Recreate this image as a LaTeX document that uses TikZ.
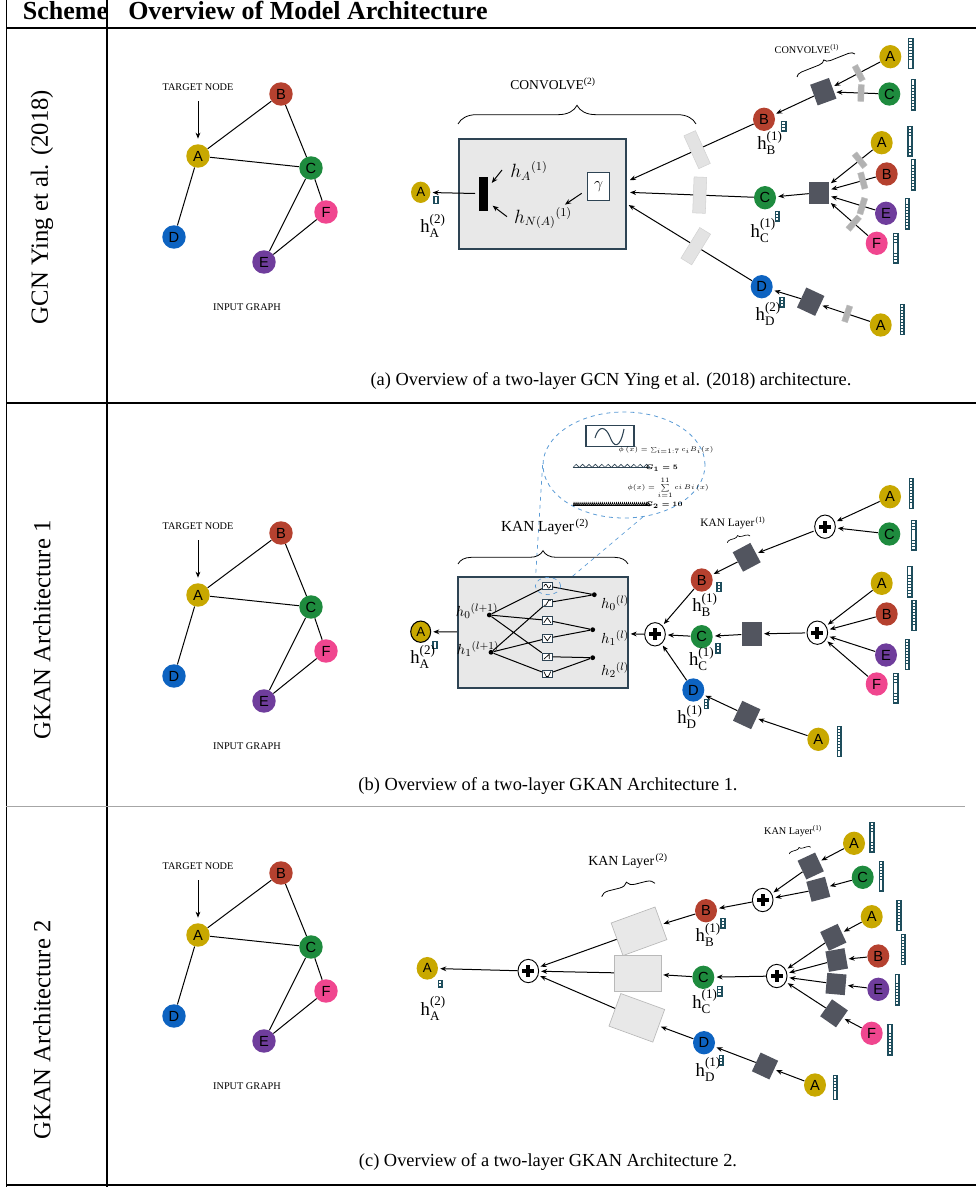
\documentclass[tikz,border=0pt]{standalone}
\usepackage{amsmath}
\usepackage{fontspec}
\setmainfont{Liberation Serif}
\setsansfont{Liberation Sans}
\usetikzlibrary{arrows.meta,shapes.geometric,decorations.pathreplacing,decorations.pathmorphing}
\pgfdeclarelayer{edges}
\pgfsetlayers{edges,main}
\definecolor{cA}{HTML}{C8A800}
\definecolor{cB}{HTML}{B5412F}
\definecolor{cC}{HTML}{1E8B3E}
\definecolor{cD}{HTML}{0D63C1}
\definecolor{cE}{HTML}{6F3D9C}
\definecolor{cF}{HTML}{F0468F}
\definecolor{sqc}{HTML}{52555F}
\definecolor{vbc}{HTML}{1E4D5C}
\definecolor{bxc}{HTML}{2E4454}
\definecolor{lgc}{HTML}{E8E8E8}
\definecolor{blc}{HTML}{5B9BD5}
\tikzset{
 gn/.style={circle, minimum size=17.6pt, inner sep=0pt, font=\sffamily\fontsize{11}{11}\selectfont},
 rn/.style={ellipse, minimum width=16.5pt, minimum height=17.5pt, inner sep=0pt, font=\sffamily\fontsize{11}{11}\selectfont},
 outn/.style={ellipse, minimum width=14.5pt, minimum height=16pt, inner sep=0pt, font=\sffamily\fontsize{10}{10}\selectfont},
 ln/.style={line width=0.75pt},
 arr/.style={line width=0.75pt, -{Stealth[length=4.5pt,width=3.6pt]}, shorten >=1.5pt},
 sqn/.style={rectangle, fill=sqc, minimum width=15pt, minimum height=16.5pt, inner sep=0pt},
 grr/.style={rectangle, fill=gray!60, draw=gray!50, line width=0.3pt, minimum width=4.5pt, minimum height=12.5pt, inner sep=0pt},
 stip/.style={rectangle, fill=gray!22, draw=gray!35, line width=0.4pt, minimum width=9.5pt, minimum height=27pt, inner sep=0pt},
 plusn/.style={ellipse, draw=black, line width=0.7pt, fill=white, minimum width=15.5pt, minimum height=17.5pt, inner sep=0pt,
   path picture={
     \fill[black] ([shift={(-4.6pt,-1.5pt)}]path picture bounding box.center) rectangle ([shift={(4.6pt,1.5pt)}]path picture bounding box.center);
     \fill[black] ([shift={(-1.5pt,-4.6pt)}]path picture bounding box.center) rectangle ([shift={(1.5pt,4.6pt)}]path picture bounding box.center);}},
 vbar/.style={rectangle, fill=vbc, draw=vbc, line width=0.3pt, inner sep=0pt, minimum width=3.3pt, minimum height={#1*2.2pt+0.6pt},
   path picture={\foreach \i in {1,...,#1}{\fill[white] ([shift={(-0.8pt,{0.6pt+(\i-1)*2.2pt})}]path picture bounding box.south) rectangle ++(1.6pt,1.6pt);}}},
 tnote/.style={font=\fontsize{7.7}{8}\selectfont, inner sep=1pt},
 lbl/.style={font=\fontsize{14}{14}\selectfont, inner sep=0pt},
 mlb/.style={font=\fontsize{13.5}{13.5}\selectfont, inner sep=0pt},
 klb/.style={font=\fontsize{11}{11}\selectfont, inner sep=0pt},
 captxt/.style={font=\fontsize{13.8}{16}\selectfont, inner sep=0pt},
 sidetxt/.style={font=\fontsize{18.5}{18.5}\selectfont, rotate=90, inner sep=0pt},
 hdtxt/.style={font=\bfseries\fontsize{19.5}{20}\selectfont, anchor=base west, inner sep=0pt},
 brc/.style={decorate, line width=0.6pt},
 kbx/.style={rectangle, draw=bxc, fill=white, line width=0.6pt, minimum width=7.5pt, minimum height=5.5pt, inner sep=0pt},
 kdot/.style={circle, fill=black, minimum size=3.6pt, inner sep=0pt},
 kanr/.style={rectangle, fill=lgc, draw=gray!55, line width=0.5pt, minimum width=35pt, minimum height=26pt, inner sep=0pt},
 tbl/.style={line width=0.9pt},
 tinytxt/.style={font=\fontsize{4}{4}\selectfont, inner sep=0pt},
}
\newcommand\hlab[2]{h$^{\textnormal{(#1)}}_{\textnormal{#2}}$}
\newcommand\ingraph[2]{%
\begin{scope}[shift={(0,#2)}]
\node[tnote] (#1tn) at (198,87) {TARGET NODE};
\node[gn,fill=cA] (#1A) at (198,156) {A};
\node[gn,fill=cB] (#1B) at (281,94) {B};
\node[gn,fill=cC] (#1C) at (311,168) {C};
\node[gn,fill=cF] (#1F) at (326,212) {F};
\node[gn,fill=cD] (#1D) at (174,237) {D};
\node[gn,fill=cE] (#1E) at (264,262) {E};
\node[tnote] (#1ig) at (247,307) {INPUT GRAPH};
\end{scope}
\begin{pgfonlayer}{edges}
\draw[arr, shorten <=7pt, shorten >=4pt] (#1tn) -- (#1A);
\draw[ln] (#1A) -- (#1B) (#1A) -- (#1C) (#1A) -- (#1D) (#1B) -- (#1C) (#1C) -- (#1E) (#1C) -- (#1F) (#1E) -- (#1F);
\end{pgfonlayer}}
\begin{document}
\begin{tikzpicture}[x=0.75pt, y=-0.75pt]
\useasboundingbox (0,0) rectangle (976,1187);
% ---------------- table
\draw[tbl] (6,28) -- (976,28);
\draw[tbl] (107,0) -- (107,1187);
\draw[tbl] (6.5,0) -- (6.5,1187);
\draw[tbl] (6,403) -- (976,403);
\draw[line width=0.7pt, gray!70] (6,806) -- (965,806);
\draw[tbl] (6,1185) -- (976,1185);
\node[hdtxt] (hs) at (22.7,19.3) {Scheme};
\node[hdtxt] (ho) at (128,19.3) {Overview of Model Architecture};
\node[sidetxt] (sa) at (42,207) {GCN Ying et al. (2018)};
\node[sidetxt] (sb) at (42,630) {GKAN Architecture 1};
\node[sidetxt] (sc) at (42,1030) {GKAN Architecture 2};
\node[captxt] (capa) at (611,381) {(a) Overview of a two-layer GCN Ying et al. (2018) architecture.};
\node[captxt] (capb) at (548,786) {(b) Overview of a two-layer GKAN Architecture 1.};
\node[captxt] (capc) at (548,1162) {(c) Overview of a two-layer GKAN Architecture 2.};
% ---------------- graphs
\ingraph{ga}{0}
\ingraph{gb}{439}
\ingraph{gc}{779}
% ================= PANEL A
\node[font=\fontsize{10.2}{11}\selectfont] (cv2) at (553,84) {CONVOLVE\textsuperscript{(2)}};
\draw[brc, decoration={brace, amplitude=14pt}] (458,124) -- (696,124);
\node[draw=bxc, fill=lgc, line width=1pt, minimum width=125.25pt, minimum height=82.7pt, inner sep=0pt] (convbox) at (542.5,194) {};
\node[fill=black, minimum width=6.5pt, minimum height=25.5pt, inner sep=0pt] (bar) at (483.7,193.7) {};
\node[mlb] (hA) at (529,171) {$h_A{}^{(1)}$};
\node[mlb] (hNA) at (543,218) {$h_{N(A)}{}^{(1)}$};
\node[draw=bxc, fill=white, line width=0.9pt, minimum width=16.2pt, minimum height=21.3pt, inner sep=0pt, font=\fontsize{13}{13}\selectfont] (gam) at (598.5,186.5) {$\gamma$};
\coordinate (hAs) at (502,170); \coordinate (hAe) at (490.5,184.5);
\coordinate (hNs) at (507,216.7); \coordinate (hNe) at (491,204.5);
\coordinate (gms) at (581.7,193.3); \coordinate (gme) at (563.3,205.7);
\draw[arr] (hAs) -- (hAe);
\draw[arr] (hNs) -- (hNe);
\draw[arr] (gms) -- (gme);
\node[outn, fill=cA] (oa) at (420.7,192.3) {A};
\node[vbar=2] (oav) at (435.8,200) {};
\node[lbl] (oal) at (433,226) {\hlab{2}{A}};
\draw[arr, shorten <=3pt] (bar) -- (oa);
\coordinate (in1) at (628,181);
\coordinate (in2) at (628,192.3);
\coordinate (in3) at (627,204);
% right side
\node[font=\fontsize{7.7}{8}\selectfont] (cv1) at (807,49) {CONVOLVE\textsuperscript{(1)}};
\draw[brc, decoration={brace, amplitude=4.5pt}] (797,77) -- (855,54);
\node[rn, fill=cA] (aA1) at (890.3,56.7) {A};
\node[vbar=10] (aA1v) at (910.5,53.3) {};
\node[rn, fill=cC] (aC1) at (889.3,94) {C};
\node[vbar=10] (aC1v) at (913,94.7) {};
\node[sqn, rotate=20] (asq1) at (823.3,91.7) {};
\node[rn, fill=cB] (aB) at (764,119.3) {B};
\node[vbar=3] (aBv) at (783.5,126.3) {};
\node[lbl] (aBl) at (770,142.7) {\hlab{1}{B}};
\node[rn, fill=cA] (aA2) at (881.7,142.7) {A};
\node[vbar=10] (aA2v) at (909.7,141) {};
\node[rn, fill=cB] (aB2) at (886.7,174) {B};
\node[vbar=10] (aB2v) at (913,174.7) {};
\node[rn, fill=cE] (aE2) at (886,213.3) {E};
\node[vbar=10] (aE2v) at (907,213.7) {};
\node[rn, fill=cF] (aF2) at (876.7,243.3) {F};
\node[vbar=10] (aF2v) at (895.5,248) {};
\node[sqn] (asq2) at (819,192.7) {};
\node[rn, fill=cC] (aC) at (765,197.7) {C};
\node[vbar=3] (aCv) at (777,216) {};
\node[lbl] (aCl) at (763.3,230.7) {\hlab{1}{C}};
\node[rn, fill=cD] (aD) at (761.7,286.7) {D};
\node[vbar=3] (aDv) at (781.7,302.3) {};
\node[lbl] (aDl) at (768.3,314) {\hlab{2}{D}};
\node[sqn, rotate=-25] (asq3) at (810.7,301.7) {};
\node[rn, fill=cA] (aA3) at (880.7,325) {A};
\node[vbar=10] (aA3v) at (902,319.5) {};
\begin{pgfonlayer}{edges}
\draw[arr] (aA1) -- node[grr, sloped, pos=.45] (ag1) {} (asq1);
\draw[arr] (aC1) -- node[grr, sloped, pos=.39] (ag2) {} (asq1);
\draw[arr] (asq1) -- (aB);
\draw[arr] (aA2) -- node[grr, sloped, pos=.3] (ag3) {} (asq2);
\draw[arr] (aB2) -- node[grr, sloped, pos=.28] (ag4) {} (asq2);
\draw[arr] (aE2) -- node[grr, sloped, pos=.28] (ag5) {} (asq2);
\draw[arr] (aF2) -- node[grr, sloped, pos=.37] (ag6) {} (asq2);
\draw[arr] (asq2) -- (aC);
\draw[arr] (aA3) -- node[grr, sloped, pos=.46] (ag7) {} (asq3);
\draw[arr] (asq3) -- (aD);
\draw[arr] (aB) -- node[stip, sloped, pos=.45] (st1) {} (in1);
\draw[arr] (aC) -- node[stip, sloped, pos=.43] (st2) {} (in2);
\draw[arr] (aD) -- node[stip, sloped, pos=.45] (st3) {} (in3);
\end{pgfonlayer}
% ================= PANEL B
\node[ellipse, draw=blc, dashed, line width=0.6pt, minimum width=121.5pt, minimum height=79.5pt, inner sep=0pt] (bub) at (624,465) {};
\node[draw=bxc, line width=0.9pt, minimum width=36pt, minimum height=16pt, inner sep=0pt] (sinb) at (610,436) {};
\draw[line width=0.8pt, bxc] (595,438) .. controls (599,424) and (606,427) .. (610,437) .. controls (614,448) and (620,449) .. (624,429);
\node[tinytxt] (f1) at (666,450) {$\phi\,(x)=\sum_{i=1:7} c_i B_i(x)$};
\draw[line width=0.5pt, bxc] (573,467.5) -- (650,467.5);
\foreach \k in {0,...,11} {\draw[line width=0.5pt, bxc] ({573+\k*6.4},467.5) -- ++(3.2,-3.2) -- ++(3.2,3.2);}
\node[tinytxt] (g1) at (662,468.5) {$\boldsymbol{G_1=5}$};
\node[tinytxt] (f2) at (668,488) {$\phi(x)=\displaystyle\sum_{i=1}^{11} ci\,Bi\,(x)$};
\draw[line width=0.7pt, black] (573,505.5) -- (650,505.5);
\foreach \k in {0,...,37} {\draw[line width=0.45pt, black] ({573+\k*2.02},505.5) -- ++(1.01,-3) -- ++(1.01,3);}
\node[tinytxt] (g2) at (664,505.5) {$\boldsymbol{G_2=10}$};
\node[font=\fontsize{11.5}{12}\selectfont] (kl2) at (545,527) {KAN Layer\textsuperscript{\,(2)}};
\draw[brc, decoration={brace, amplitude=10pt}] (458,564) -- (628,564);
\node[draw=bxc, fill=lgc, line width=1pt, minimum width=127.5pt, minimum height=83.25pt, inner sep=0pt] (kanbox) at (543,632.5) {};
\node[kdot] (l0) at (489.3,615) {};
\node[kdot] (l1) at (491,652.3) {};
\node[kdot] (r0) at (594.3,594.7) {};
\node[kdot] (r1) at (592.7,629.7) {};
\node[kdot] (r2) at (592.7,657.7) {};
\node[kbx] (kb1) at (547.3,586) {};
\node[kbx] (kb2) at (547.3,602.7) {};
\node[kbx] (kb3) at (547.3,620.3) {};
\node[kbx] (kb4) at (547.3,638.3) {};
\node[kbx] (kb5) at (547.3,656.7) {};
\node[kbx] (kb6) at (547.3,674) {};
\draw[ln] (l0) -- (kb1) (l0) -- (kb3) (l0) -- (kb5) (l1) -- (kb2) (l1) -- (kb4) (l1) -- (kb6);
\draw[ln] (kb1) -- (r0) (kb2) -- (r0) (kb3) -- (r1) (kb4) -- (r1) (kb5) -- (r2) (kb6) -- (r2);
\begin{scope}[shift={(547.3,586)}]\draw[line width=0.5pt] (-3.5,0.5) .. controls (-2,-3) and (-0.5,-2) .. (0,0) .. controls (0.5,3) and (2.5,3) .. (3.5,-1);\end{scope}
\begin{scope}[shift={(547.3,602.7)}]\draw[line width=0.5pt] (-3.5,2.5) -- (-1.5,2.5) -- (1.5,-2.5) -- (3.5,-2.5);\end{scope}
\begin{scope}[shift={(547.3,620.3)}]\draw[line width=0.5pt] (-3.5,2.5) -- (0,-2.5) -- (3.5,2.5);\end{scope}
\begin{scope}[shift={(547.3,638.3)}]\draw[line width=0.5pt] (-3.5,-2.5) -- (0,2.5) -- (3.5,-2.5);\end{scope}
\begin{scope}[shift={(547.3,656.7)}]\draw[line width=0.5pt] (-3.5,2.5) -- (2,-2.5) -- (2,2.5);\end{scope}
\begin{scope}[shift={(547.3,674)}]\draw[line width=0.5pt] (-3.5,-2.5) -- (-1,2.5) -- (1,2.5) -- (3.5,-2.5);\end{scope}
\node[ellipse, draw=blc, dashed, line width=0.5pt, minimum width=19pt, minimum height=13pt, inner sep=0pt] (zc) at (548,586) {};
\node[klb] (hl0) at (477,611) {$h_0{}^{(l+1)}$};
\node[klb] (hl1) at (478,649) {$h_1{}^{(l+1)}$};
\node[klb] (hr0) at (615,603) {$h_0{}^{(l)}$};
\node[klb] (hr1) at (615,638) {$h_1{}^{(l)}$};
\node[klb] (hr2) at (615,670) {$h_2{}^{(l)}$};
\node[outn, fill=cA, draw=black, line width=0.8pt, minimum width=15pt] (bAo) at (420.7,631.7) {A};
\node[vbar=2] (bAov) at (434.7,645) {};
\node[lbl] (bAol) at (423,657) {\hlab{2}{A}};
\node[plusn] (pL) at (655,634.3) {};
\node[rn, fill=cB] (bB) at (701.7,580) {B};
\node[vbar=3] (bBv) at (718.7,586.7) {};
\node[lbl] (bBl) at (705,605) {\hlab{1}{B}};
\node[rn, fill=cC] (bC) at (701.7,636.7) {C};
\node[vbar=3] (bCv) at (717.7,648) {};
\node[lbl] (bCl) at (701.7,659) {\hlab{1}{C}};
\node[rn, fill=cD] (bD) at (693.3,690) {D};
\node[vbar=3] (bDv) at (706.2,703.8) {};
\node[lbl] (bDl) at (690,717) {\hlab{1}{D}};
\node[plusn] (pT) at (825,526.7) {};
\node[rn, fill=cA] (bA1) at (890,496.7) {A};
\node[vbar=10] (bA1v) at (911.3,493.3) {};
\node[rn, fill=cC] (bC1) at (889.3,534) {C};
\node[vbar=10] (bC1v) at (913.5,535) {};
\node[sqn, rotate=28] (bsqT) at (746.7,557.3) {};
\node[font=\fontsize{8.5}{9}\selectfont] (kl1) at (733,523) {KAN Layer\textsuperscript{\,(1)}};
\draw[brc, line width=0.5pt, decoration={brace, amplitude=3pt}] (727.3,542.7) -- (750,536);
\node[plusn] (pM) at (817.3,632.7) {};
\node[rn, fill=cA] (bA2) at (881.7,583.3) {A};
\node[vbar=10] (bA2v) at (909.5,581.7) {};
\node[rn, fill=cB] (bB2) at (886.7,614) {B};
\node[vbar=10] (bB2v) at (913.7,615.3) {};
\node[rn, fill=cE] (bE2) at (886,655) {E};
\node[vbar=10] (bE2v) at (907,654.3) {};
\node[rn, fill=cF] (bF2) at (876.7,684) {F};
\node[vbar=10] (bF2v) at (895.5,688) {};
\node[sqn, minimum height=17.5pt] (bsqM) at (751.7,634) {};
\node[rn, fill=cA] (bA3) at (818.3,739.3) {A};
\node[vbar=10] (bA3v) at (839.2,741.3) {};
\node[sqn, rotate=-25] (bsqB) at (746.7,715) {};
\begin{pgfonlayer}{edges}
\draw[line width=0.5pt, blc, dashed] (bub.west) -- (zc.west);
\draw[line width=0.5pt, blc, dashed] (bub.290) -- (zc.east);
\draw[arr] (kanbox) -- (bAo);
\draw[arr] (pL) -- (kanbox);
\draw[arr] (bB) -- (pL);
\draw[arr] (bC) -- (pL);
\draw[arr] (bD) -- (pL);
\draw[arr] (bA1) -- (pT);
\draw[arr] (bC1) -- (pT);
\draw[arr, shorten <=1pt] (pT) -- (bsqT);
\draw[arr] (bsqT) -- (bB);
\draw[arr] (bA2) -- (pM);
\draw[arr] (bB2) -- (pM);
\draw[arr] (bE2) -- (pM);
\draw[arr] (bF2) -- (pM);
\draw[arr, shorten <=1pt] (pM) -- (bsqM);
\draw[arr] (bsqM) -- (bC);
\draw[arr] (bA3) -- (bsqB);
\draw[arr] (bsqB) -- (bD);
\end{pgfonlayer}
% ================= PANEL C
\node[font=\fontsize{10.4}{11}\selectfont] (kl2c) at (628,861) {KAN Layer\textsuperscript{\,(2)}};
\draw[brc, decoration={brace, amplitude=6pt}] (601.7,896.7) -- (655,883.3);
\node[outn, fill=cA, minimum width=16pt, minimum height=17pt] (cAo) at (427.3,968.3) {A};
\node[vbar=2] (cAov) at (440.2,983.7) {};
\node[lbl] (cAol) at (433.3,1008.3) {\hlab{2}{A}};
\node[plusn] (cP) at (528.3,971) {};
\node[kanr, rotate=20] (cr1) at (639,931.3) {};
\node[kanr, minimum height=26.5pt] (cr2) at (637.5,973.3) {};
\node[kanr, rotate=-20] (cr3) at (636.8,1017.8) {};
\node[rn, fill=cB] (cB) at (706,910.7) {B};
\node[vbar=3] (cBv) at (722.7,923.3) {};
\node[lbl] (cBl) at (708.3,935) {\hlab{1}{B}};
\node[rn, fill=cC] (cC) at (703.3,977.3) {C};
\node[vbar=3] (cCv) at (719.5,991) {};
\node[lbl] (cCl) at (705,1001.7) {\hlab{1}{C}};
\node[rn, fill=cD] (cD) at (704,1042.7) {D};
\node[vbar=3] (cDv) at (721.3,1060) {};
\node[lbl] (cDl) at (708.3,1069.3) {\hlab{1}{D}};
\node[plusn] (cPT) at (762.7,900) {};
\node[sqn, minimum width=14.5pt, minimum height=15.5pt, rotate=25] (csq1) at (810.7,866) {};
\node[sqn, minimum width=14.5pt, minimum height=15.5pt, rotate=15] (csq2) at (818.3,889.3) {};
\node[rn, fill=cA] (cA1) at (854,843.3) {A};
\node[vbar=10] (cA1v) at (871.7,837) {};
\node[rn, fill=cC] (cC1) at (862.7,877.3) {C};
\node[vbar=10] (cC1v) at (881.3,876.2) {};
\node[font=\fontsize{7.7}{8}\selectfont] (kl1c) at (793,831) {KAN Layer\textsuperscript{(1)}};
\draw[brc, line width=0.5pt, decoration={brace, amplitude=2.5pt}] (789.3,854) -- (810.7,847.3);
\node[plusn] (cPM) at (776.7,976) {};
\node[rn, fill=cA] (cA2) at (871.7,916.7) {A};
\node[vbar=10] (cA2v) at (898.8,915.3) {};
\node[rn, fill=cB] (cB2) at (878.3,956) {B};
\node[vbar=10] (cB2v) at (903.3,949.5) {};
\node[rn, fill=cE] (cE2) at (878.3,989.3) {E};
\node[vbar=10] (cE2v) at (897,989.7) {};
\node[rn, fill=cF] (cF2) at (871.7,1033.3) {F};
\node[vbar=10] (cF2v) at (889.8,1039.7) {};
\node[sqn, minimum width=14.5pt, minimum height=15.5pt, rotate=25] (cs1) at (833.3,937.3) {};
\node[sqn, minimum width=14.5pt, minimum height=15.5pt, rotate=10] (cs2) at (836.7,960) {};
\node[sqn, minimum width=14.5pt, minimum height=15.5pt, rotate=-5] (cs3) at (836,984) {};
\node[sqn, minimum width=14.5pt, minimum height=15.5pt, rotate=-35] (cs4) at (834,1013.3) {};
\node[sqn, minimum width=14.5pt, minimum height=15.5pt, rotate=-25] (csqB) at (765,1066) {};
\node[rn, fill=cA] (cA3) at (815,1085) {A};
\node[vbar=8] (cA3v) at (835.3,1087.2) {};
\begin{pgfonlayer}{edges}
\draw[arr] (cP) -- (cAo);
\draw[arr] (cr1) -- (cP);
\draw[arr] (cr2) -- (cP);
\draw[arr] (cr3) -- (cP);
\draw[arr] (cB) -- (cr1);
\draw[arr] (cC) -- (cr2);
\draw[arr] (cD) -- (cr3);
\draw[arr] (cPT) -- (cB);
\draw[arr] (cA1) -- (csq1);
\draw[arr] (cC1) -- (csq2);
\draw[arr] (csq1) -- (cPT);
\draw[arr] (csq2) -- (cPT);
\draw[arr] (cPM) -- (cC);
\draw[arr] (cA2) -- (cs1);
\draw[arr] (cB2) -- (cs2);
\draw[arr] (cE2) -- (cs3);
\draw[arr] (cF2) -- (cs4);
\draw[arr] (cs1) -- (cPM);
\draw[arr] (cs2) -- (cPM);
\draw[arr] (cs3) -- (cPM);
\draw[arr] (cs4) -- (cPM);
\draw[arr] (cA3) -- (csqB);
\draw[arr] (csqB) -- (cD);
\end{pgfonlayer}
\end{tikzpicture}
\end{document}
